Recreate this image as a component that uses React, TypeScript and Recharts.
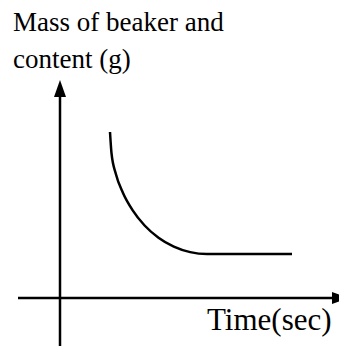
import { LineChart, Line, XAxis, YAxis, ReferenceLine } from "recharts";

// time (arbitrary units) vs mass of beaker + content (arbitrary units)
const timeValues = [5.0, 5.15, 5.58, 6.3, 7.27, 8.46, 9.85, 11.38, 13.02, 14.7, 19.0, 23.2];
const massValues = [16.6, 14.48, 12.43, 10.5, 8.76, 7.25, 6.03, 5.14, 4.59, 4.4, 4.4, 4.4];

const yAxisLabel = ["Mass of beaker and", "content (g)"];
const xAxisLabel = "Time(sec)";

const data = timeValues.map((t, i) => ({ t, m: massValues[i] }));

const FONT = '"Liberation Serif", "Times New Roman", serif';

function ArrowLine(props: any) {
  const { x1, y1, x2, y2 } = props;
  const dx = x2 - x1;
  const dy = y2 - y1;
  const len = Math.sqrt(dx * dx + dy * dy) || 1;
  const ux = dx / len;
  const uy = dy / len;
  const head = 17;
  const half = 6;
  const bx = x2 - ux * head;
  const by = y2 - uy * head;
  const pts = [
    `${x2},${y2}`,
    `${bx - uy * half},${by + ux * half}`,
    `${bx + uy * half},${by - ux * half}`,
  ].join(" ");
  return (
    <g>
      <line x1={x1} y1={y1} x2={bx + ux * 2} y2={by + uy * 2} stroke="#000" strokeWidth={2.5} />
      <polygon points={pts} fill="#000" />
    </g>
  );
}

export default function App() {
  return (
    <div style={{ position: "absolute", left: 0, top: 0, width: 339, height: 346, background: "#fff" }}>
      <LineChart width={339} height={346} data={data} margin={{ top: 0, right: 0, bottom: 0, left: 0 }}>
        <XAxis type="number" dataKey="t" domain={[-6, 27.9]} hide />
        <YAxis type="number" domain={[-4.8, 29.8]} hide />
        <ReferenceLine
          segment={[{ x: 0, y: -4.8 }, { x: 0, y: 21.8 }]}
          ifOverflow="visible"
          shape={ArrowLine}
        />
        <ReferenceLine
          segment={[{ x: -4.2, y: 0 }, { x: 28.9, y: 0 }]}
          ifOverflow="visible"
          shape={ArrowLine}
        />
        <Line
          type="monotone"
          dataKey="m"
          stroke="#000"
          strokeWidth={2.5}
          dot={false}
          activeDot={false}
          isAnimationActive={false}
        />
        <text x={13} y={31} fontFamily={FONT} fontSize={27} fill="#000">
          {yAxisLabel[0]}
        </text>
        <text x={13} y={68} fontFamily={FONT} fontSize={27} fill="#000">
          {yAxisLabel[1]}
        </text>
        <text x={207} y={330} fontFamily={FONT} fontSize={31} fill="#000">
          {xAxisLabel}
        </text>
      </LineChart>
    </div>
  );
}
